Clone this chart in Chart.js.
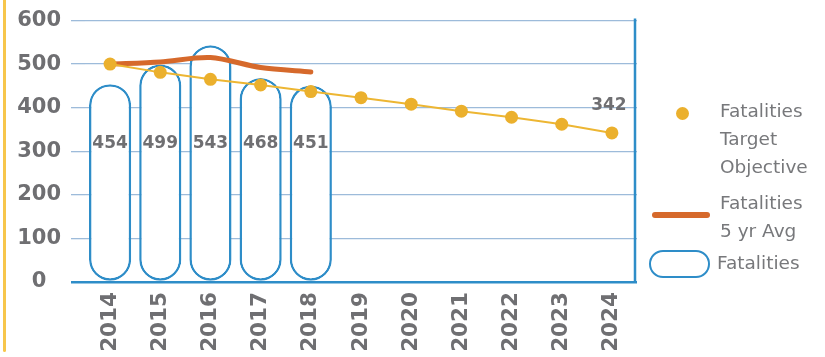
<!DOCTYPE html>
<html>
<head>
<meta charset="utf-8">
<script src="https://cdn.jsdelivr.net/npm/chart.js@4.4.1/dist/chart.umd.min.js"></script>
<style>
  html, body { margin: 0; padding: 0; background: #fff; }
  #wrap { position: relative; width: 825px; height: 357px; overflow: hidden; }
  #edge { position: absolute; left: 3px; top: 0; width: 3px; height: 352px; background: #f7c64b; border-radius: 0 0 2px 2px; }
  #legend { position: absolute; left: 0; top: 0; width: 825px; height: 357px; pointer-events: none;
            font-family: "DejaVu Sans", sans-serif; font-size: 18.5px; color: #77787b; }
  .lg-text { position: absolute; line-height: 28px; white-space: nowrap; }
  .lg-mark { position: absolute; box-sizing: border-box; }
</style>
</head>
<body>
<div id="wrap">
  <div id="edge"></div>
  <canvas id="fatalChart" width="825" height="357"></canvas>
  <div id="legend"></div>
</div>
<script>
const years = ['2014', '2015', '2016', '2017', '2018', '2019', '2020', '2021', '2022', '2023', '2024'];
const fatalities = [454, 499, 543, 468, 451, null, null, null, null, null, null];
const fiveYrAvg = [500, 505, 515, 492, 482, null, null, null, null, null, null];
const targetObjective = [500, 481, 465, 452, 437, 423, 408, 392, 378, 362, 342];
const yTicks = [0, 100, 200, 300, 400, 500, 600];

const blue = '#2e8dc8';
const gridBlue = '#9dbbda';
const gold = '#ebb02d';
const orange = '#d6692b';
const grey = '#6f6f72';
const barLabelLevel = 318; // bar labels sit on one row

// value labels: counts inside pills, last target value above its point
const valueLabels = {
    id: 'valueLabels',
    afterDatasetsDraw(chart) {
        const ctx = chart.ctx;
        const y = chart.scales.y;
        ctx.save();
        ctx.font = 'bold 17px "DejaVu Sans", sans-serif';
        ctx.fillStyle = grey;
        ctx.textAlign = 'center';
        ctx.textBaseline = 'middle';
        chart.getDatasetMeta(2).data.forEach((bar, i) => {
            if (fatalities[i] == null) return;
            ctx.fillText(String(fatalities[i]), bar.x, y.getPixelForValue(barLabelLevel));
        });
        const pts = chart.getDatasetMeta(0).data;
        const last = pts.length - 1;
        ctx.fillText(String(targetObjective[last]), pts[last].x - 3, pts[last].y - 27);
        ctx.restore();
    }
};

// blue frame line on the right of the plot
const rightFrame = {
    id: 'rightFrame',
    afterDraw(chart) {
        const a = chart.chartArea;
        const ctx = chart.ctx;
        ctx.save();
        ctx.strokeStyle = blue;
        ctx.lineWidth = 2.5;
        ctx.beginPath();
        ctx.moveTo(a.right - 2, a.top - 2);
        ctx.lineTo(a.right - 2, a.bottom + 1);
        ctx.stroke();
        ctx.restore();
    }
};

const chart = new Chart(document.getElementById('fatalChart'), {
    data: {
        labels: years,
        datasets: [
            {
                type: 'line',
                label: 'Fatalities Target Objective',
                data: targetObjective,
                borderColor: '#edb633',
                borderWidth: 2,
                pointRadius: 6.5,
                pointBackgroundColor: gold,
                pointBorderWidth: 0,
                order: 1
            },
            {
                type: 'line',
                label: 'Fatalities 5 yr Avg',
                data: fiveYrAvg,
                borderColor: orange,
                borderWidth: 5,
                borderCapStyle: 'round',
                tension: 0.3,
                pointRadius: 0,
                order: 2
            },
            {
                type: 'bar',
                label: 'Fatalities',
                data: fatalities,
                backgroundColor: '#ffffff',
                borderColor: blue,
                borderWidth: 2.5,
                borderRadius: 30,
                borderSkipped: false,
                categoryPercentage: 1,
                barPercentage: 0.84,
                order: 3
            }
        ]
    },
    options: {
        responsive: false,
        animation: false,
        layout: { padding: { top: 19, right: 188, left: 0, bottom: 0 } },
        plugins: {
            legend: { display: false },
            tooltip: { enabled: false }
        },
        scales: {
            x: {
                grid: { display: false, drawTicks: false },
                border: { display: false },
                ticks: {
                    color: grey,
                    font: { family: '"DejaVu Sans", sans-serif', size: 21.5, weight: 'bold' },
                    minRotation: 90,
                    maxRotation: 90,
                    padding: 10
                },
                afterFit: (scale) => { scale.height = 75; }
            },
            y: {
                min: 0,
                max: 600,
                afterBuildTicks: (scale) => { scale.ticks = yTicks.map(v => ({ value: v })); },
                border: { display: false },
                grid: {
                    color: (c) => c.tick && c.tick.value === 0 ? blue : gridBlue,
                    lineWidth: (c) => c.tick && c.tick.value === 0 ? 2.5 : 1.3,
                    tickColor: (c) => c.tick && c.tick.value === 0 ? blue : gridBlue,
                    tickWidth: (c) => c.tick && c.tick.value === 0 ? 2.5 : 1.3,
                    tickLength: 14,
                    drawTicks: true
                },
                ticks: {
                    color: grey,
                    font: { family: '"DejaVu Sans", sans-serif', size: 21, weight: 'bold', lineHeight: 1 },
                    crossAlign: 'center',
                    padding: 10
                },
                afterFit: (scale) => { scale.width = 85; }
            }
        }
    },
    plugins: [valueLabels, rightFrame]
});

// legend on the right, built from the datasets
function buildLegend() {
    const box = document.getElementById('legend');
    const items = [
        { ds: chart.data.datasets[0], lines: ['Fatalities', 'Target', 'Objective'], top: 97, left: 720,
          mark: { left: 676, top: 107, width: 13, height: 13, background: gold, borderRadius: '50%' } },
        { ds: chart.data.datasets[1], lines: ['Fatalities', '5 yr Avg'], top: 189, left: 720,
          mark: { left: 652, top: 212, width: 58, height: 6, background: orange, borderRadius: '3px' } },
        { ds: chart.data.datasets[2], lines: ['Fatalities'], top: 249, left: 717,
          mark: { left: 649, top: 250, width: 61, height: 28, background: '#fff', border: '2.5px solid ' + blue, borderRadius: '14px' } }
    ];
    items.forEach(it => {
        const m = document.createElement('div');
        m.className = 'lg-mark';
        m.style.left = it.mark.left + 'px';
        m.style.top = it.mark.top + 'px';
        m.style.width = it.mark.width + 'px';
        m.style.height = it.mark.height + 'px';
        m.style.background = it.mark.background;
        m.style.borderRadius = it.mark.borderRadius;
        if (it.mark.border) m.style.border = it.mark.border;
        box.appendChild(m);
        const t = document.createElement('div');
        t.className = 'lg-text';
        t.style.left = it.left + 'px';
        t.style.top = it.top + 'px';
        t.innerHTML = it.lines.join('<br>');
        t.title = it.ds.label;
        box.appendChild(t);
    });
}
buildLegend();
</script>
</body>
</html>
